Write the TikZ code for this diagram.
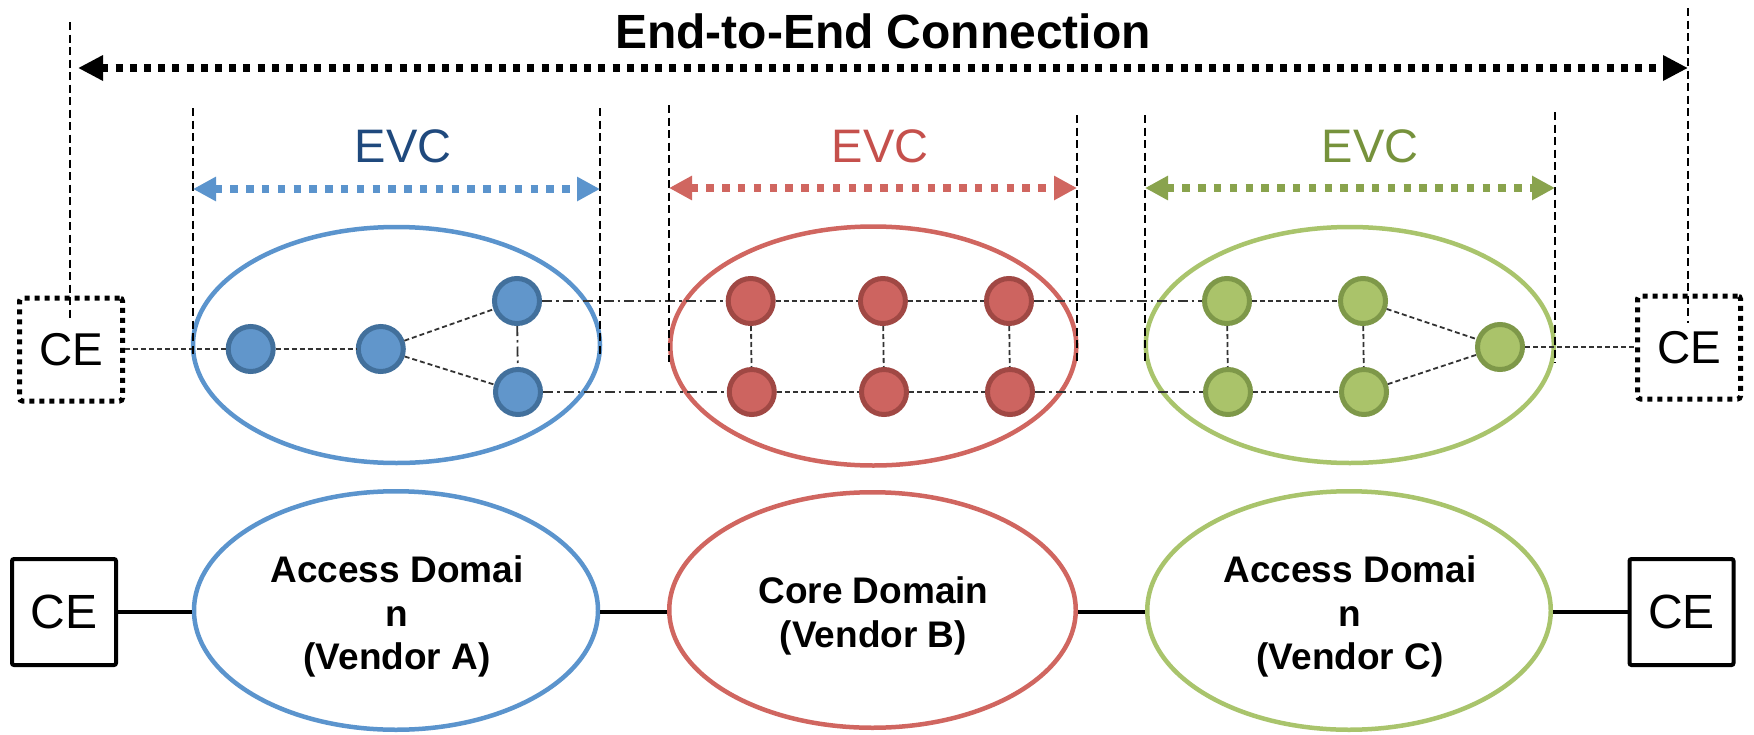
\documentclass[tikz,border=0pt]{standalone}
\usepackage{fontspec}
\setmainfont{Liberation Sans}
\usetikzlibrary{arrows.meta,shapes.geometric}
\definecolor{cblue}{HTML}{5B94CD}
\definecolor{nblue}{HTML}{6196CB}
\definecolor{bblue}{HTML}{42709C}
\definecolor{tblue}{HTML}{1F497D}
\definecolor{cred}{HTML}{D06660}
\definecolor{nred}{HTML}{CD6460}
\definecolor{bred}{HTML}{A04844}
\definecolor{tred}{HTML}{C5504C}
\definecolor{cgreen}{HTML}{A9C46C}
\definecolor{ngreen}{HTML}{AAC36A}
\definecolor{bgreen}{HTML}{7E9849}
\definecolor{tgreen}{HTML}{76923C}
\definecolor{agreen}{HTML}{89A34D}
\definecolor{linkgray}{HTML}{333333}
\begin{document}
\begin{tikzpicture}[x=1pt,y=-1pt,
  vbound/.style={draw=black, line width=2.2pt, dash pattern=on 8pt off 4.5pt},
  inlink/.style={draw=linkgray, line width=1.8pt, dash pattern=on 5pt off 3pt},
  xlink/.style={draw=linkgray, line width=1.8pt, dash pattern=on 10pt off 4pt on 2.5pt off 4pt},
  dev/.style={circle, inner sep=0pt, minimum size=45pt, line width=5pt},
  domtop/.style={ellipse, inner sep=0pt, line width=4.5pt},
  evcspan/.style={line width=7.3pt, dash pattern=on 7.5pt off 8.3pt,
     {Triangle[length=23pt,width=23pt]}-{Triangle[length=23pt,width=23pt]}},
  e2espan/.style={line width=7.3pt, dash pattern=on 7pt off 7.2pt,
     {Triangle[length=25pt,width=24pt]}-{Triangle[length=25pt,width=24pt]}},
  cetop/.style={draw=black, line width=5pt, dash pattern=on 5pt off 5pt,
     rounded corners=3pt, minimum width=103pt, minimum height=103pt, inner sep=0pt,
     font=\fontsize{46}{55}\selectfont},
  cebot/.style={draw=black, line width=4pt, rounded corners=2pt, minimum width=104pt,
     minimum height=106pt, inner sep=0pt, font=\fontsize{48}{57}\selectfont},
  evc/.style={anchor=base, inner sep=0pt, font=\fontsize{47}{56}\selectfont},
  domtext/.style={anchor=north, align=center, inner sep=0pt,
     font=\fontsize{37}{43.5}\selectfont\bfseries},
  solidlink/.style={draw=black, line width=3.5pt}
]
\fill[white] (0,0) rectangle (1754,734);
\useasboundingbox (0,0) rectangle (1754,734);

% title
\node[anchor=base, inner sep=0pt, font=\fontsize{48}{56}\selectfont\bfseries] (title) at (883,48) {End-to-End Connection};

% top domain ellipses
\node[domtop, draw=cblue, minimum width=407pt, minimum height=236pt] (domA) at (396.5,345) {};
\node[domtop, draw=cred, minimum width=406pt, minimum height=239pt] (domB) at (873.3,346) {};
\node[domtop, draw=cgreen, minimum width=408pt, minimum height=236pt] (domC) at (1349.8,345) {};

% devices
\node[dev, fill=nblue, draw=bblue] (b1) at (250.7,349) {};
\node[dev, fill=nblue, draw=bblue] (b2) at (380.8,349) {};
\node[dev, fill=nblue, draw=bblue] (b3) at (517,301) {};
\node[dev, fill=nblue, draw=bblue] (b4) at (518,392) {};
\node[dev, fill=nred, draw=bred] (r1) at (750.7,301) {};
\node[dev, fill=nred, draw=bred] (r2) at (882.9,301) {};
\node[dev, fill=nred, draw=bred] (r3) at (1009,301) {};
\node[dev, fill=nred, draw=bred] (r4) at (751.8,392) {};
\node[dev, fill=nred, draw=bred] (r5) at (884,392) {};
\node[dev, fill=nred, draw=bred] (r6) at (1010,392) {};
\node[dev, fill=ngreen, draw=bgreen] (g1) at (1227,301) {};
\node[dev, fill=ngreen, draw=bgreen] (g2) at (1363,301) {};
\node[dev, fill=ngreen, draw=bgreen] (g4) at (1228,392) {};
\node[dev, fill=ngreen, draw=bgreen] (g5) at (1364,392) {};
\node[dev, fill=ngreen, draw=bgreen] (g3) at (1500,347) {};

% CE (top, dotted)
\node[cetop] (ceL) at (71,349.5) {CE};
\node[cetop] (ceR) at (1689,347.5) {CE};

% links
\draw[inlink] (ceL.east |- b1) -- (b1);
\draw[inlink] (b1) -- (b2);
\draw[inlink] (b2) -- (b3);
\draw[inlink] (b2) -- (b4);
\draw[xlink] (b3) -- (b4);
\draw[xlink] (b3) -- (r1);
\draw[xlink] (b4) -- (r4);
\draw[inlink] (r1) -- (r2);
\draw[inlink] (r2) -- (r3);
\draw[inlink] (r4) -- (r5);
\draw[inlink] (r5) -- (r6);
\draw[inlink] (r1) -- (r4);
\draw[inlink] (r2) -- (r5);
\draw[inlink] (r3) -- (r6);
\draw[xlink] (r3) -- (g1);
\draw[xlink] (r6) -- (g4);
\draw[inlink] (g1) -- (g2);
\draw[inlink] (g4) -- (g5);
\draw[inlink] (g1) -- (g4);
\draw[inlink] (g2) -- (g5);
\draw[inlink] (g2) -- (g3);
\draw[inlink] (g5) -- (g3);
\draw[inlink] (g3) -- (ceR.west |- g3);

% boundary lines
\coordinate (v0t) at (70,22);   \coordinate (v0b) at (70,320);
\coordinate (v7t) at (1688,8);  \coordinate (v7b) at (1688,323);
\coordinate (v1t) at (193,108); \coordinate (v1b) at (193,357);
\coordinate (v2t) at (600,108); \coordinate (v2b) at (600,357);
\coordinate (v3t) at (669,105); \coordinate (v3b) at (669,362);
\coordinate (v4t) at (1077,115); \coordinate (v4b) at (1077,363);
\coordinate (v5t) at (1145,115); \coordinate (v5b) at (1145,363);
\coordinate (v6t) at (1555,112); \coordinate (v6b) at (1555,363);
\foreach \i in {0,...,7} {\draw[vbound] (v\i t) -- (v\i b);}

% spans
\coordinate (eL) at (78,68); \coordinate (eR) at (1688,68);
\draw[e2espan, black] (eL) -- (eR);
\coordinate (aL) at (193,189); \coordinate (aR) at (600,189);
\coordinate (bL) at (669,188); \coordinate (bR) at (1077,188);
\coordinate (cL) at (1145,188); \coordinate (cR) at (1555,188);
\draw[evcspan, cblue] (aL) -- (aR);
\draw[evcspan, cred] (bL) -- (bR);
\draw[evcspan, agreen] (cL) -- (cR);

\node[evc, text=tblue] (evcA) at (403,162) {EVC};
\node[evc, text=tred] (evcB) at (880,162) {EVC};
\node[evc, text=tgreen] (evcC) at (1370,162) {EVC};

% bottom row
\node[cebot] (ceBL) at (64,612) {CE};
\node[cebot] (ceBR) at (1681.5,612) {CE};
\node[domtop, draw=cblue, minimum width=404pt, minimum height=238.5pt] (dA) at (396,610.5) {};
\node[domtop, draw=cred, minimum width=406.5pt, minimum height=235.5pt] (dB) at (872.5,610) {};
\node[domtop, draw=cgreen, minimum width=403.5pt, minimum height=238.5pt] (dC) at (1349,610.5) {};
\draw[solidlink] (ceBL.east) -- (ceBL.east -| dA.west);
\draw[solidlink] (dA.east |- ceBL) -- (dB.west |- ceBL);
\draw[solidlink] (dB.east |- ceBL) -- (dC.west |- ceBL);
\draw[solidlink] (dC.east |- ceBR) -- (ceBR.west);

\node[domtext] (txA) at (397,555.5) {Access Domai\\n\\(Vendor A)};
\node[domtext] (txB) at (873.5,576.5) {Core Domain\\(Vendor B)};
\node[domtext] (txC) at (1350,555.5) {Access Domai\\n\\(Vendor C)};
\end{tikzpicture}
\end{document}
